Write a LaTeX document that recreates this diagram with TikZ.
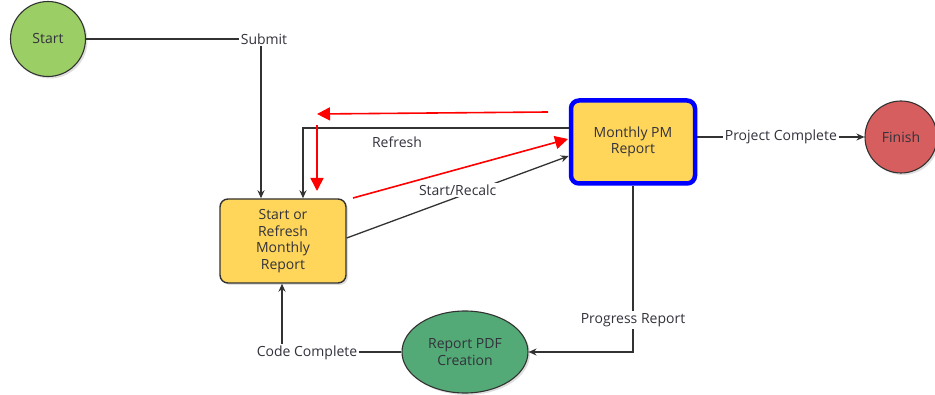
\documentclass[tikz,border=0pt]{standalone}
\usepackage{fontspec}
\setmainfont{Open Sans}
\usetikzlibrary{arrows.meta,shapes.geometric,shadows,calc}
\definecolor{startgreen}{RGB}{155,206,101}
\definecolor{boxyellow}{RGB}{255,214,90}
\definecolor{finishred}{RGB}{214,94,94}
\definecolor{pdfgreen}{RGB}{84,170,118}
\definecolor{edgegray}{RGB}{50,50,50}
\definecolor{txtgray}{RGB}{50,50,60}
\definecolor{bluebord}{RGB}{0,0,255}
\definecolor{arrred}{RGB}{255,0,0}
\tikzset{
  shad/.style={drop shadow={opacity=0.25,shadow xshift=2pt,shadow yshift=-2pt}},
  circ/.style={circle,draw=edgegray,line width=1.1pt,shad,text=txtgray},
  procbox/.style={rectangle,rounded corners=8pt,draw=edgegray,line width=1.4pt,fill=boxyellow,shad,align=center,text=txtgray},
  conn/.style={draw=edgegray,line width=1.3pt},
  arr/.style={conn,-{Stealth[length=8pt,width=7pt]}},
  lbl/.style={fill=white,inner sep=2pt,text=txtgray},
  redarr/.style={draw=arrred,line width=1.6pt,-{Triangle[length=13pt,width=13pt]}}
}
\begin{document}
\begin{tikzpicture}[x=1pt,y=-1pt,font=\fontsize{14}{16.7}\selectfont]
\useasboundingbox (0,0) rectangle (935,395);
% nodes
\node[circ,fill=startgreen,minimum size=75pt] (start) at (48,39) {Start};
\node[circ,fill=finishred,minimum size=72pt] (fin) at (901,137) {Finish};
\node[procbox,minimum width=126pt,minimum height=84pt] (box1) at (283,241) {Start or\\Refresh\\Monthly\\Report};
\node[procbox,draw=bluebord,line width=4.5pt,minimum width=124pt,minimum height=83pt] (mpm) at (633,142) {Monthly PM\\Report};
\node[ellipse,draw=edgegray,line width=1.1pt,fill=pdfgreen,shad,minimum width=126pt,minimum height=82pt,align=center,text=txtgray] (rpt) at (465,352) {Report PDF\\Creation};
% coordinates
\coordinate (c1) at (261,39);
\coordinate (c2) at (303,128);
\coordinate (c3) at (633,352);
\coordinate (c4) at (282,352);
% connectors
\draw[arr] (start.east) -- (c1) -- (c1 |- box1.north);
\node[lbl] (lsub) at (264,39) {Submit};
\draw[arr] (mpm.west |- c2) -- (c2) -- (c2 |- box1.north);
\node[text=txtgray] (lref) at (397,142) {Refresh};
\draw[arr] ($(box1.east)+(0,-3)$) -- node[lbl,pos=0.5,yshift=7pt] (lsr) {Start/Recalc} ($(mpm.west)+(0,14)$);
\draw[arr] (mpm.east |- fin) -- node[lbl] (lpc) {Project Complete} (fin.west);
\draw[arr] (mpm.south) -- (c3) -- (rpt.east);
\node[lbl] (lpr) at (633,320) {Progress Report};
\draw[arr] (rpt.west) -- (c4) -- (c4 |- box1.south);
\node[lbl] (lcc) at (307,353) {Code Complete};
% red annotation arrows
\coordinate (r1a) at (548,112);
\coordinate (r1b) at (317,114);
\coordinate (r2a) at (317,125);
\coordinate (r2b) at (317,191);
\coordinate (r3a) at (353,198);
\coordinate (r3b) at (568,139);
\draw[redarr] (r1a) -- (r1b);
\draw[redarr] (r2a) -- (r2b);
\draw[redarr] (r3a) -- (r3b);
\end{tikzpicture}
\end{document}
